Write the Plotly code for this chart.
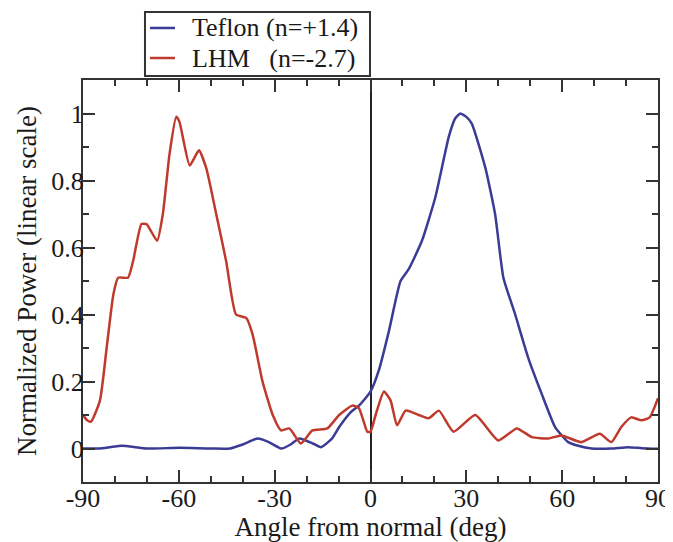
import plotly.graph_objects as go

# Data
angle_lhm = [-90, -88.8, -87.5, -84.7, -82.6, -80.5, -79, -75.9, -74.3, -71.7, -70.1, -66.8,
             -65, -62.9, -60.8, -59.8, -56.6, -53.7, -51.4, -48.3, -45.2, -42.1, -38.9,
             -36.9, -33.8, -30.6, -28, -25.4, -21.8, -18.2, -13.5, -9.8, -5.7, -3.6, -1,
             0, 1.6, 4.2, 6.3, 8.3, 11, 15.1, 18.2, 21.4, 26, 32.8, 40, 45.8, 50.5, 55.7,
             59.8, 66, 71.8, 75.4, 78.5, 81.6, 84.8, 87.4, 90]
power_lhm = [0.10, 0.085, 0.08, 0.143, 0.30, 0.46, 0.51, 0.51, 0.56, 0.67, 0.67, 0.62,
             0.70, 0.88, 0.99, 0.975, 0.845, 0.89, 0.836, 0.70, 0.56, 0.40, 0.39,
             0.34, 0.20, 0.10, 0.054, 0.06, 0.015, 0.054, 0.06, 0.10, 0.128, 0.12, 0.05,
             0.05, 0.10, 0.17, 0.143, 0.069, 0.113, 0.10, 0.09, 0.113, 0.05, 0.10, 0.024,
             0.06, 0.034, 0.03, 0.039, 0.019, 0.044, 0.019, 0.064, 0.093, 0.084, 0.093, 0.15]

angle_teflon = [-90, -85, -78, -70, -60, -50, -44, -40, -35.3, -32, -28, -25, -22.3, -18,
                -15.5, -12, -9.8, -6, -3.6, 0, 2.6, 5.8, 9.4, 12, 16.1, 20.3, 24.5, 26.5,
                28.1, 30, 31.7, 35.9, 39, 41.6, 45.3, 49.4, 53.6, 57.8, 61.9, 65, 69.2,
                75.4, 80.6, 85, 90]
power_teflon = [0, 0, 0.008, 0, 0.002, 0, 0, 0.012, 0.03, 0.02, 0, 0.012, 0.03, 0.015,
                0.004, 0.03, 0.064, 0.11, 0.128, 0.17, 0.233, 0.352, 0.50, 0.536, 0.62,
                0.75, 0.93, 0.985, 1.0, 0.99, 0.97, 0.84, 0.70, 0.51, 0.40, 0.27, 0.163,
                0.064, 0.019, 0.008, 0, 0, 0.004, 0.001, -0.001]

x_ticks = [-90, -60, -30, 0, 30, 60, 90]
x_tick_labels = ["-90", "-60", "-30", "0", "30", "60", "90"]
y_ticks = [0, 0.2, 0.4, 0.6, 0.8, 1]
y_tick_labels = ["0", "0.2", "0.4", "0.6", "0.8", "1"]

series_names = ["Teflon (n=+1.4)", "LHM\u00a0\u00a0\u00a0(n=-2.7)"]

BLUE = "#3b3b95"
RED = "#bf3a2c"
FRAME = "#333333"
TEXT = "#1a1a1a"
FONT = "Liberation Serif"

fig = go.Figure()
fig.add_trace(go.Scatter(x=angle_teflon, y=power_teflon, mode="lines", name=series_names[0],
                         line=dict(color=BLUE, width=2.5, shape="spline", smoothing=0.5),
                         showlegend=False))
fig.add_trace(go.Scatter(x=angle_lhm, y=power_lhm, mode="lines", name=series_names[1],
                         line=dict(color=RED, width=2.5, shape="spline", smoothing=0.5),
                         showlegend=False))

axis_common = dict(showline=True, linecolor=FRAME, linewidth=2, mirror="ticks",
                   ticks="inside", ticklen=12, tickwidth=2, tickcolor=FRAME,
                   showgrid=False, tickfont=dict(family=FONT, size=26, color=TEXT))

fig.update_xaxes(range=[-90, 90], tickvals=x_ticks, ticktext=x_tick_labels,
                 zeroline=True, zerolinecolor="#222", zerolinewidth=2,
                 ticklabelstandoff=-8,
                 minor=dict(ticks="inside", ticklen=6, tickwidth=2, dtick=10, tick0=0,
                            tickcolor=FRAME, showgrid=False),
                 title=dict(text="Angle from normal (deg)", standoff=4,
                            font=dict(family=FONT, size=27, color=TEXT)),
                 **axis_common)
fig.update_yaxes(range=[-0.1, 1.1], tickvals=y_ticks, ticktext=y_tick_labels, zeroline=False,
                 ticklabelstandoff=-8,
                 minor=dict(ticks="inside", ticklen=6, tickwidth=2, dtick=0.1, tick0=0,
                            tickcolor=FRAME, showgrid=False),
                 title=dict(text="Normalized Power (linear scale)", standoff=7,
                            font=dict(family=FONT, size=27, color=TEXT)),
                 **axis_common)

# Hand-drawn legend box (paper coordinates), matching the compact original legend
shapes = [dict(type="rect", xref="paper", yref="paper", x0=0.1078, x1=0.4991,
               y0=1.0100, y1=1.1692, line=dict(color=FRAME, width=2), fillcolor="white",
               layer="above")]
annotations = []
legend_rows = [(1.1294, BLUE, series_names[0]), (1.0547, RED, series_names[1])]
for yrow, col, label in legend_rows:
    shapes.append(dict(type="line", xref="paper", yref="paper", x0=0.1165, x1=0.160,
                       y0=yrow, y1=yrow, line=dict(color=col, width=2.5), layer="above"))
    annotations.append(dict(xref="paper", yref="paper", x=0.1861, y=yrow, text=label,
                            showarrow=False, xanchor="left", yanchor="middle",
                            font=dict(family=FONT, size=26, color=TEXT)))

fig.update_layout(
    width=665, height=534,
    margin=dict(l=75, r=15, t=72, b=60, autoexpand=False),
    paper_bgcolor="white", plot_bgcolor="white",
    showlegend=False,
    shapes=shapes,
    annotations=annotations,
)

fig.write_html("out.html")
